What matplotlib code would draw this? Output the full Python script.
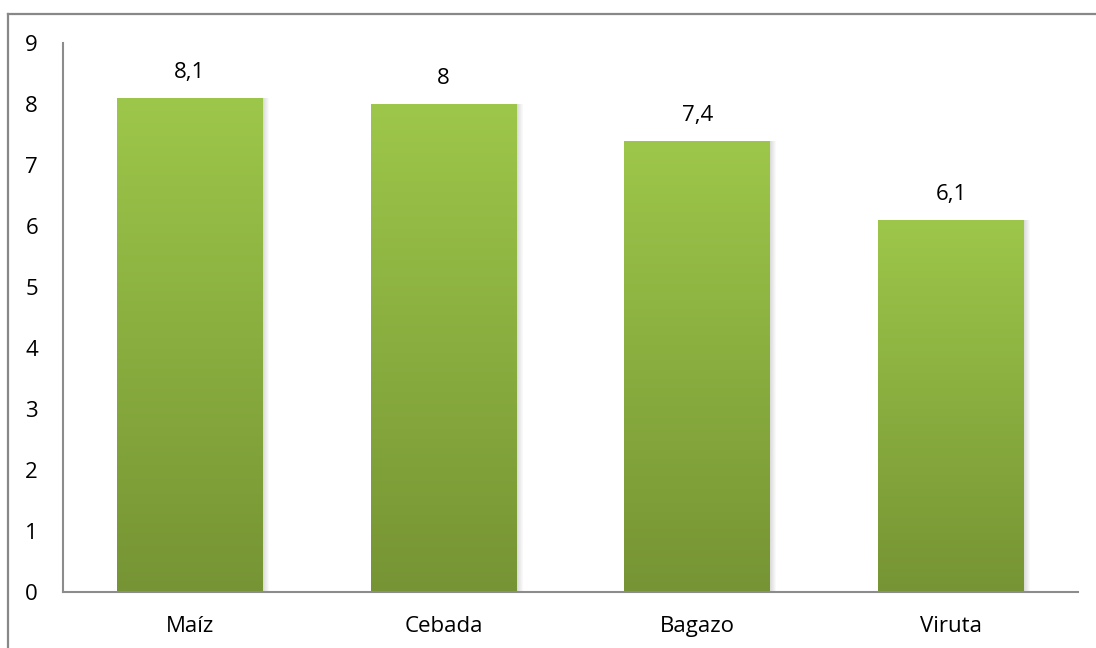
import numpy as np
import matplotlib.pyplot as plt
from matplotlib.colors import LinearSegmentedColormap
from matplotlib.lines import Line2D

plt.rcParams['font.family'] = ['Open Sans', 'DejaVu Sans']

categories = ['Maíz', 'Cebada', 'Bagazo', 'Viruta']
values = [8.1, 8, 7.4, 6.1]
value_labels = ['8,1', '8', '7,4', '6,1']

fig = plt.figure(figsize=(10.96, 6.48), dpi=100)
ax = fig.add_axes([0.0575, 0.0864, 0.9261, 0.8472])

# outer chart frame (only left and top visible)
fig.add_artist(Line2D([7.5 / 1096, 7.5 / 1096], [0, 1 - 13.5 / 648],
                      transform=fig.transFigure, color='#888888', lw=1.6))
fig.add_artist(Line2D([7.5 / 1096, 1], [1 - 13.5 / 648, 1 - 13.5 / 648],
                      transform=fig.transFigure, color='#888888', lw=1.6))

x = np.arange(len(categories))
width = 0.575
cmap = LinearSegmentedColormap.from_list('g', ['#769434', '#9dc74a'])
grad = np.linspace(0, 1, 256).reshape(-1, 1)

bars = ax.bar(x, values, width=width, color='none', zorder=3)
for b, v in zip(bars, values):
    # soft shadow
    for k in range(6):
        ax.bar(b.get_x() + b.get_width() / 2 + 0.004 * (k + 1), v, width=width,
               color='black', alpha=0.025, zorder=1, lw=0)
    x0 = b.get_x()
    im = ax.imshow(grad, extent=[x0, x0 + width, 0, v], origin='lower',
                   cmap=cmap, aspect='auto', zorder=2)
    im.set_clip_path(b)

for xi, v, lab in zip(x, values, value_labels):
    ax.text(xi, v + 0.24, lab, ha='center', va='bottom', fontsize=16)

ax.set_xlim(-0.5, len(categories) - 0.5)
ax.set_ylim(0, 9)
ax.set_yticks(range(10))
ax.set_xticks(x)
ax.set_xticklabels(categories)
ax.tick_params(length=0, labelsize=16, pad=17)
ax.tick_params(axis='y', pad=18)
for s in ['top', 'right']:
    ax.spines[s].set_visible(False)
for s in ['left', 'bottom']:
    ax.spines[s].set_color('#8c8c8c')
    ax.spines[s].set_linewidth(1.5)

fig.savefig('out.png', dpi=100)
